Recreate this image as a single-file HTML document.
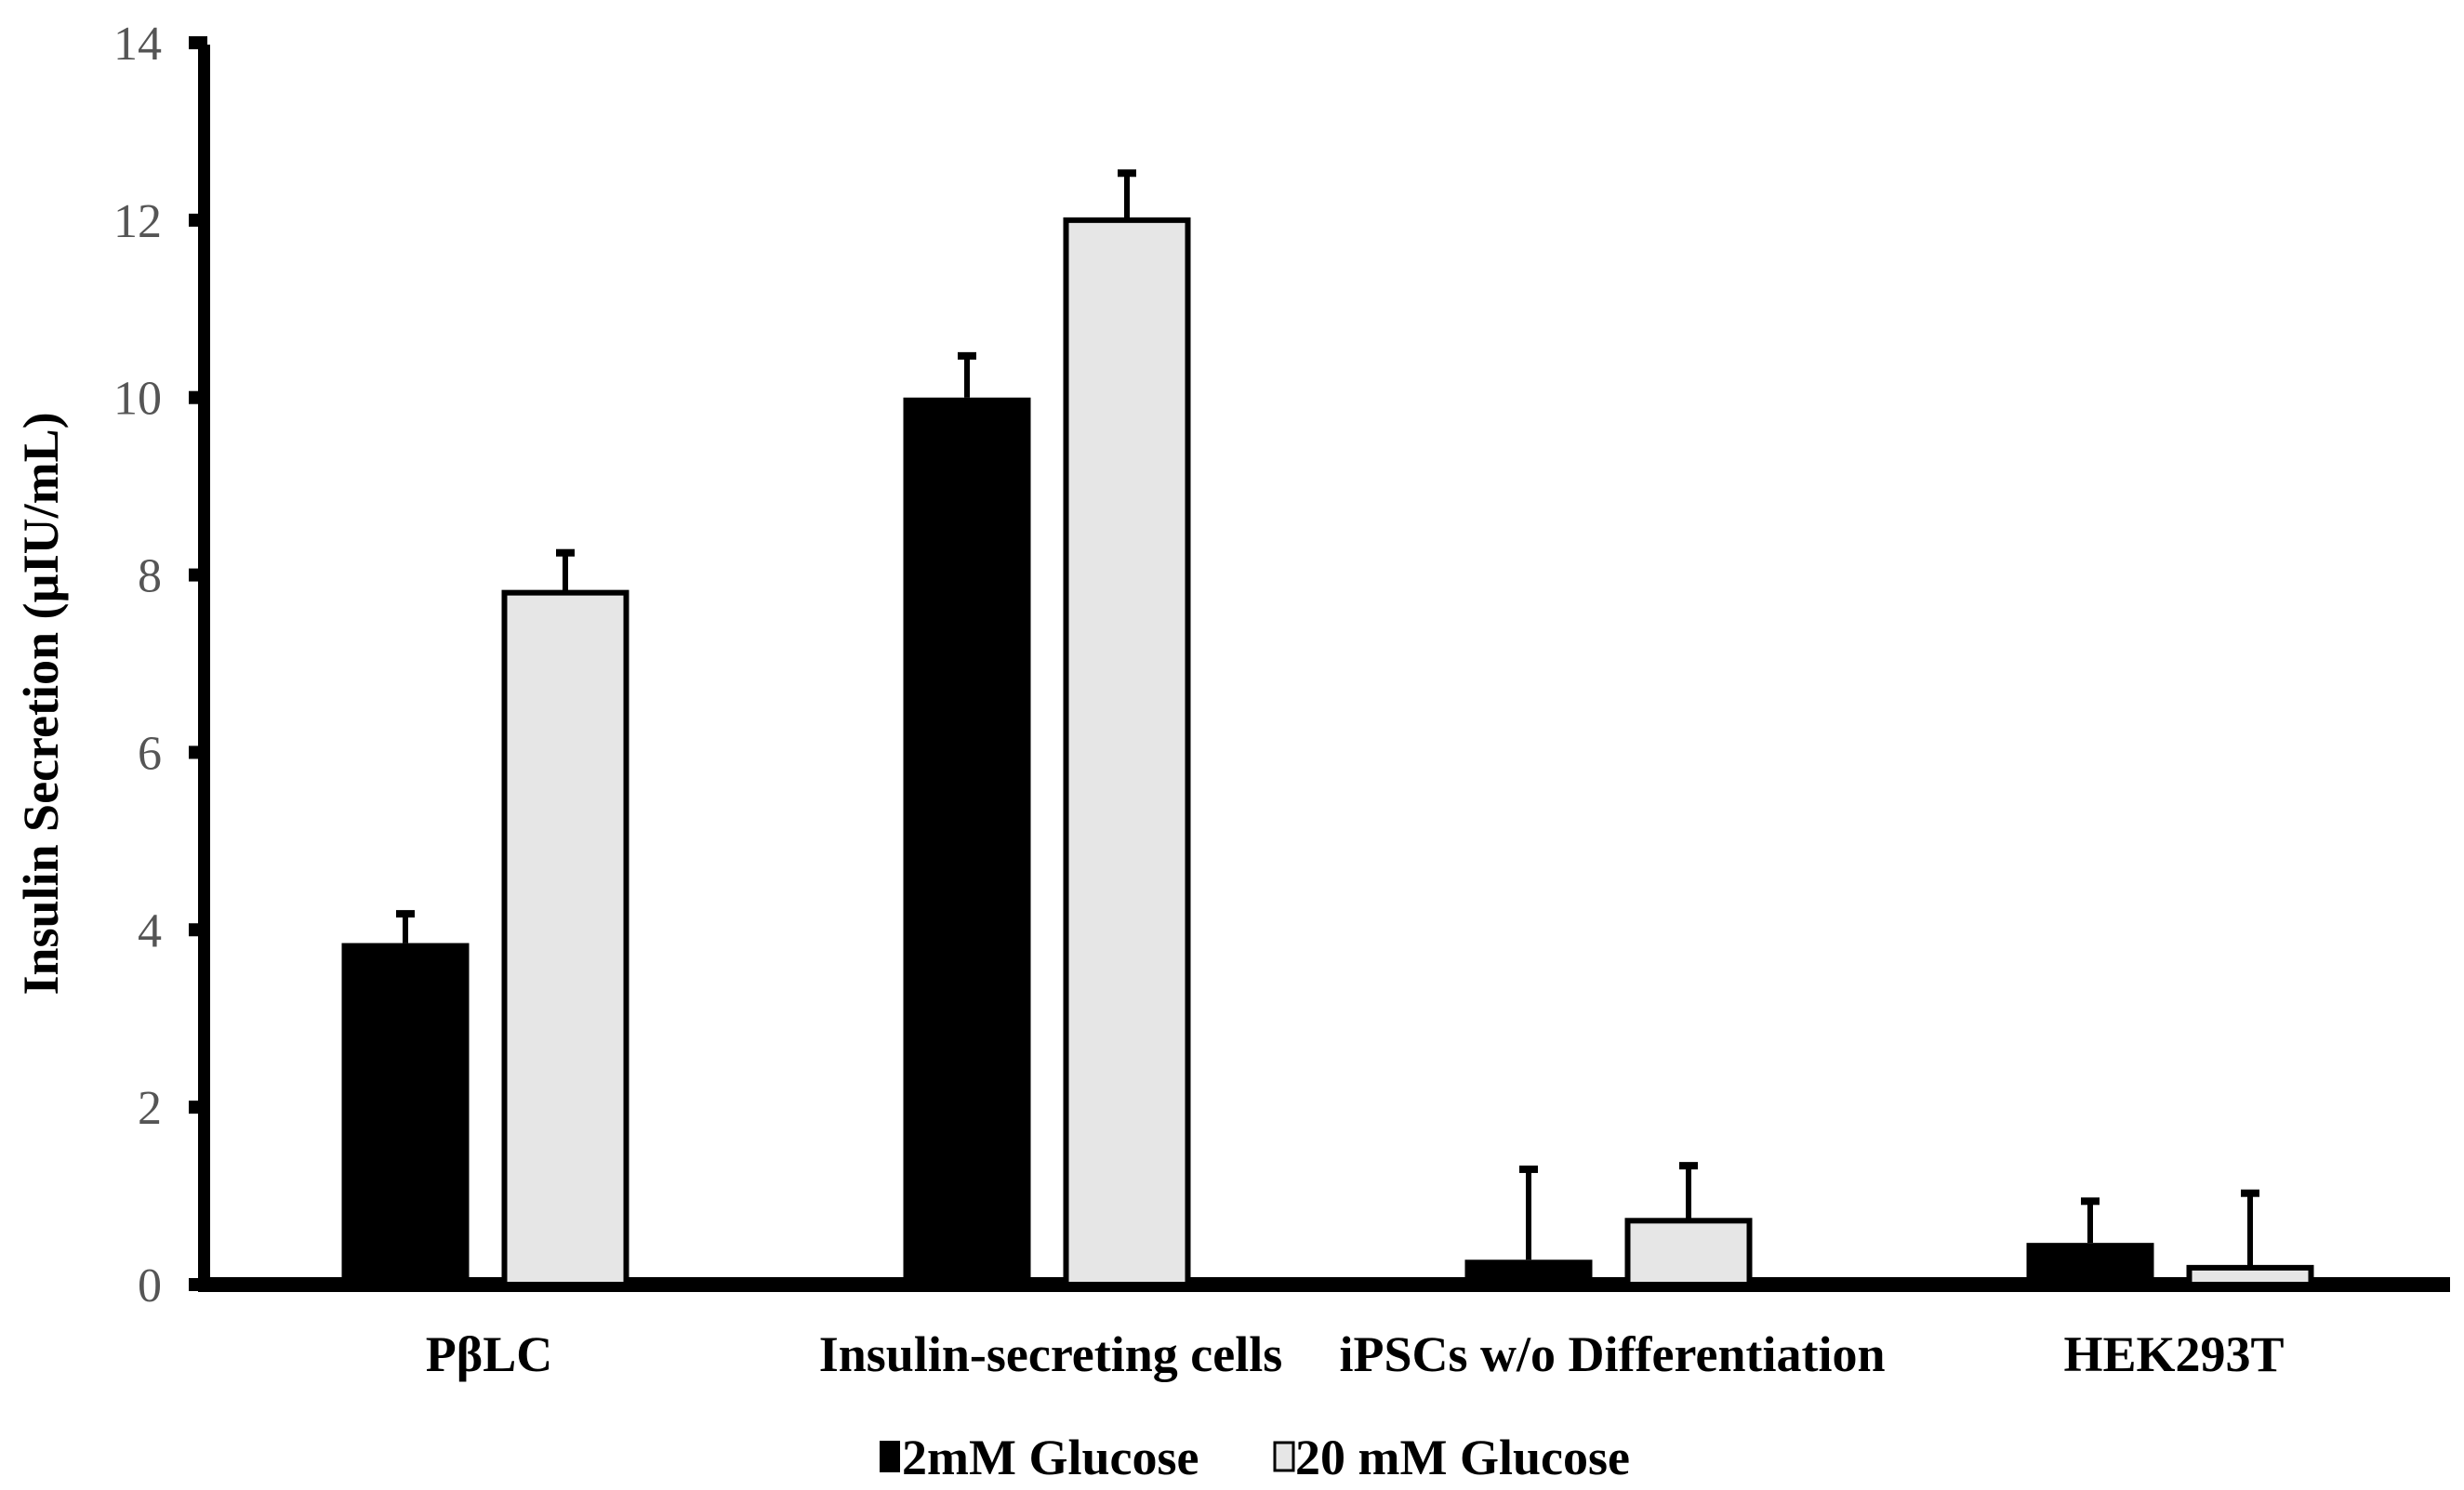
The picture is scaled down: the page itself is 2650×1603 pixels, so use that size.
<!DOCTYPE html>
<html><head><meta charset="utf-8"><style>
html,body{margin:0;padding:0;background:#fff;}
svg{display:block;}
</style></head><body>
<svg id="chart" width="2650" height="1603" viewBox="0 0 2650 1603" xmlns="http://www.w3.org/2000/svg">
<g id="axes"></g>
<g id="bars"></g>
<text transform="translate(62,757) rotate(-90)" text-anchor="middle" font-family="Liberation Serif, serif" font-weight="bold" font-size="54" fill="#000">Insulin Secretion (µIU/mL)</text>
<g>
<g>
<rect x="946" y="1550" width="22" height="34" fill="#000"/>
<text x="970" y="1586" font-family="Liberation Serif, serif" font-weight="bold" font-size="54" fill="#000">2mM Glucose</text>
</g>
<g>
<rect x="1371" y="1552" width="20" height="30" fill="#e6e6e6" stroke="#000" stroke-width="3"/>
<text x="1393" y="1586" font-family="Liberation Serif, serif" font-weight="bold" font-size="54" fill="#000">20 mM Glucose</text>
</g>
</g>
</svg>
<script>
const categories = ["PβLC", "Insulin-secreting cells", "iPSCs w/o Differentiation", "HEK293T"];
const lowGlucose = [3.85, 10.0, 0.28, 0.47];
const lowGlucoseErr = [0.33, 0.47, 1.02, 0.47];
const highGlucose = [7.8, 12.0, 0.72, 0.19];
const highGlucoseErr = [0.45, 0.53, 0.62, 0.84];
const yTicks = [0, 2, 4, 6, 8, 10, 12, 14];

const NS = "http://www.w3.org/2000/svg";
const y0 = 1382, yTop = 46, yMax = 14;
function yScale(v){ return y0 - v * (y0 - yTop) / yMax; }
const plotLeft = 226, plotRight = 2635;
function xCenter(i){ return 522 + i * 604; }
const barW = 137, offset = 86;

function mk(tag, attrs, parent){
  const el = document.createElementNS(NS, tag);
  for (const k in attrs) el.setAttribute(k, attrs[k]);
  parent.appendChild(el);
  return el;
}
const axes = document.getElementById('axes');
const bars = document.getElementById('bars');

yTicks.forEach(t => {
  const y = yScale(t);
  const tk = mk('rect', {x:203, y:y-7, width:20, height:14, fill:'#000'}, axes);
  
  
  const lb = mk('text', {x:174, y:y+18, 'text-anchor':'end', 'font-family':'Liberation Serif, serif', 'font-size':'52', fill:'#555'}, axes);
  lb.textContent = t;
  
  
});

categories.forEach((c, i) => {
  const cx = xCenter(i);
  const bx = cx - offset;
  const eTop1 = yScale(lowGlucose[i] + lowGlucoseErr[i]);
  const e1 = mk('line', {x1:bx, x2:bx, y1:yScale(lowGlucose[i]), y2:eTop1, stroke:'#000', 'stroke-width':6}, bars);
  
  
  const c1 = mk('rect', {x:bx-10, y:eTop1-4, width:20, height:8, fill:'#000'}, bars);
  
  
  const b1 = mk('rect', {x:bx-barW/2, y:yScale(lowGlucose[i]), width:barW, height:y0-yScale(lowGlucose[i]), fill:'#000'}, bars);
  
  
  const gx = cx + offset;
  const eTop2 = yScale(highGlucose[i] + highGlucoseErr[i]);
  const e2 = mk('line', {x1:gx, x2:gx, y1:yScale(highGlucose[i]), y2:eTop2, stroke:'#000', 'stroke-width':6}, bars);
  
  
  const c2 = mk('rect', {x:gx-10, y:eTop2-4, width:20, height:8, fill:'#000'}, bars);
  
  
  const b2 = mk('rect', {x:gx-barW/2+3, y:yScale(highGlucose[i]), width:barW-6, height:y0-yScale(highGlucose[i]), fill:'#e6e6e6', stroke:'#000', 'stroke-width':6}, bars);
  
  
  const lb = mk('text', {x:cx+4, y:1475, 'text-anchor':'middle', 'font-family':'Liberation Serif, serif', 'font-weight':'bold', 'font-size':'54', fill:'#000'}, bars);
  lb.textContent = c;
  
  
});

const ya = mk('rect', {x:213, y:48, width:13, height:y0-48+7, fill:'#000'}, axes);


const xa = mk('rect', {x:plotLeft-13, y:1374, width:plotRight-plotLeft+13, height:16, fill:'#000'}, axes);


</script>
</body></html>
